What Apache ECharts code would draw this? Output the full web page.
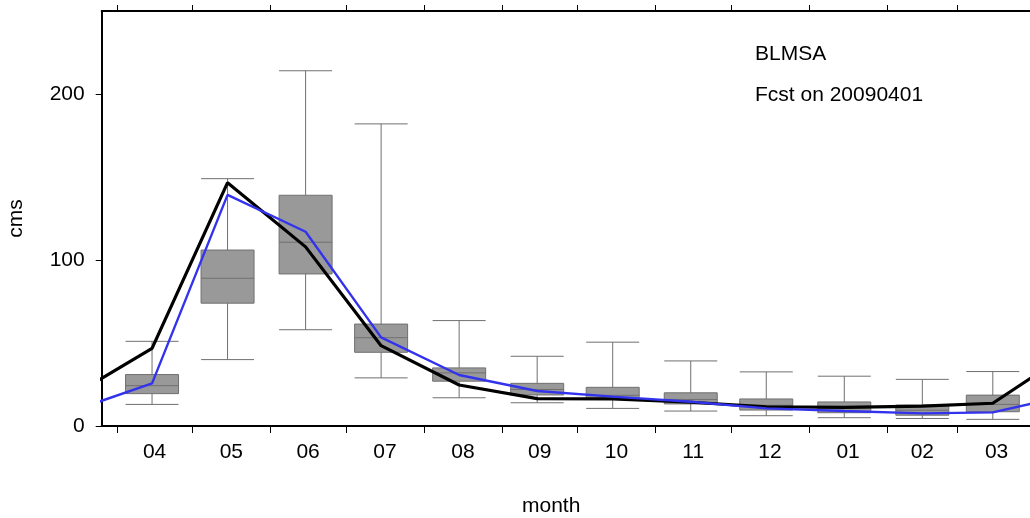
<!DOCTYPE html>
<html>
<head>
<meta charset="utf-8">
<script src="https://cdn.jsdelivr.net/npm/echarts@6/dist/echarts.min.js"></script>
<style>
  html, body { margin: 0; padding: 0; background: #fff; }
  #main { width: 1030px; height: 518px; }
</style>
</head>
<body>
<div id="main"></div>
<script>
// month labels and the dates the boxes sit on
var monthLabels = ['04', '05', '06', '07', '08', '09', '10', '11', '12', '01', '02', '03'];
var monthStarts = ['2009-04-01', '2009-05-01', '2009-06-01', '2009-07-01', '2009-08-01', '2009-09-01',
    '2009-10-01', '2009-11-01', '2009-12-01', '2010-01-01', '2010-02-01', '2010-03-01', '2010-04-01'];
var boxDates = ['2009-04-15', '2009-05-15', '2009-06-15', '2009-07-15', '2009-08-15', '2009-09-15',
    '2009-10-15', '2009-11-15', '2009-12-15', '2010-01-15', '2010-02-15', '2010-03-15'];
// [low, q1, median, q3, high]
var boxStats = [
    [13, 19.5, 24.3, 31, 51],
    [40, 74, 89, 106, 149],
    [58, 91.6, 110.7, 139, 214],
    [29, 44.4, 53.2, 61.4, 182],
    [17, 27, 32, 35, 63.5],
    [14, 18.7, 22, 25.7, 42],
    [10.6, 16.5, 18.5, 23.3, 50.5],
    [9, 13.3, 16, 20, 39.2],
    [6.2, 9.6, 12.5, 16.3, 32.6],
    [5, 8, 11, 14.5, 30],
    [4.5, 6.5, 9.5, 12.6, 28.1],
    [4, 8.6, 13, 18.6, 32.8]
];
// lines run one month past each end of the plot
var lineDates = ['2009-03-15'].concat(boxDates, ['2010-04-15']);
var blackValues = [18.7, 46.8, 146.6, 107.9, 48.4, 24.7, 16.5, 16.3, 14.3, 11.6, 11.2, 12.0, 13.7, 44.9];
var blueValues = [9.4, 25.7, 139.2, 117, 53.4, 30.7, 21.1, 17.7, 14.6, 10.6, 9, 7.6, 8.2, 18.7];
var yTicks = [0, 100, 200];

// x is days since 2009-04-01
function dayOf(s) {
    var p = s.split('-');
    return (Date.UTC(+p[0], +p[1] - 1, +p[2]) - Date.UTC(2009, 3, 1)) / 86400000;
}
var tickDays = monthStarts.map(dayOf);
var midDays = [];
for (var i = 0; i < monthLabels.length; i++) {
    midDays.push((tickDays[i] + tickDays[i + 1]) / 2);
}

var font = 'Liberation Sans';

var myChart = echarts.init(document.getElementById('main'));
var option = {
    animation: false,
    backgroundColor: '#fff',
    grid: {
        left: 101.7,
        top: 11,
        width: 949,
        bottom: 92,
        outerBoundsMode: 'none'
    },
    xAxis: [{
        type: 'value',
        position: 'bottom',
        min: -6,
        max: 371,
        name: 'month',
        nameLocation: 'middle',
        nameGap: 70,
        nameMoveOverlap: false,
        // plot runs past the right edge, so pull the name back to the visible middle
        nameTextStyle: { fontFamily: font, fontSize: 21, color: '#000', padding: [0, 50, 0, 0] },
        axisLine: { onZero: false, lineStyle: { color: '#000', width: 2 } },
        axisTick: {
            customValues: tickDays,
            length: 7,
            lineStyle: { color: '#000', width: 1 }
        },
        axisLabel: {
            customValues: midDays,
            margin: 16,
            fontFamily: font,
            fontSize: 21,
            color: '#000',
            formatter: function (v) {
                for (var k = 0; k < midDays.length; k++) {
                    if (Math.abs(midDays[k] - v) < 1) return monthLabels[k];
                }
                return '';
            }
        },
        splitLine: { show: false }
    }, {
        type: 'value',
        position: 'top',
        min: -6,
        max: 371,
        axisLine: { onZero: false, lineStyle: { color: '#000', width: 2 } },
        axisTick: {
            customValues: tickDays,
            length: 6,
            lineStyle: { color: '#000', width: 1 }
        },
        axisLabel: { show: false },
        splitLine: { show: false }
    }],
    yAxis: {
        type: 'value',
        min: 0,
        max: 250,
        name: 'cms',
        nameLocation: 'middle',
        nameRotate: 90,
        nameGap: 75,
        nameMoveOverlap: false,
        nameTextStyle: { fontFamily: font, fontSize: 21, color: '#000' },
        axisLine: { show: true, onZero: false, lineStyle: { color: '#000', width: 2 } },
        axisTick: {
            customValues: yTicks,
            length: 6,
            lineStyle: { color: '#000', width: 1 }
        },
        axisLabel: {
            customValues: yTicks,
            margin: 17,
            fontFamily: font,
            fontSize: 21,
            color: '#000'
        },
        splitLine: { show: false }
    },
    graphic: [{
        type: 'text',
        left: 755,
        top: 44,
        style: { text: 'BLMSA', font: '21px "Liberation Sans"', fill: '#000' }
    }, {
        type: 'text',
        left: 755,
        top: 85,
        style: { text: 'Fcst on 20090401', font: '21px "Liberation Sans"', fill: '#000' }
    }],
    series: [{
        type: 'boxplot',
        xAxisIndex: 0,
        boxWidth: [53, 53],
        itemStyle: {
            color: '#999999',
            borderColor: '#707070',
            borderWidth: 1
        },
        data: boxStats.map(function (s, k) {
            return [dayOf(boxDates[k])].concat(s);
        })
    }, {
        type: 'line',
        xAxisIndex: 0,
        symbol: 'none',
        lineStyle: { color: '#000', width: 3.2 },
        data: lineDates.map(function (d, k) { return [dayOf(d), blackValues[k]]; })
    }, {
        type: 'line',
        xAxisIndex: 0,
        symbol: 'none',
        lineStyle: { color: '#3333ee', width: 2.4 },
        data: lineDates.map(function (d, k) { return [dayOf(d), blueValues[k]]; })
    }]
};
myChart.setOption(option);
</script>
</body>
</html>
